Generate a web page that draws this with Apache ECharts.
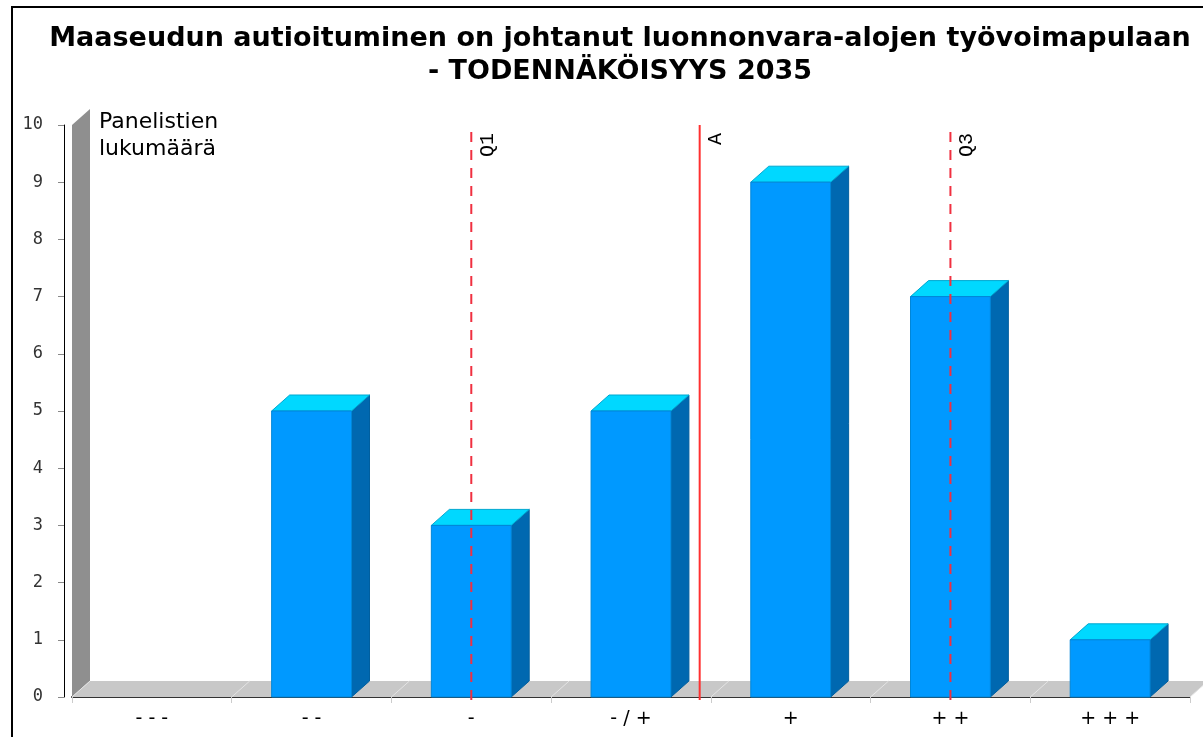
<!DOCTYPE html>
<html><head><meta charset="utf-8">
<script src="https://cdn.jsdelivr.net/npm/echarts@6/dist/echarts.min.js"></script>
<style>html,body{margin:0;padding:0;background:#fff}#c{width:1203px;height:737px}</style>
</head><body><div id="c"></div>
<script>
const titleLines = ['Maaseudun autioituminen on johtanut luonnonvara-alojen työvoimapulaan', '- TODENNÄKÖISYYS 2035'];
const yAxisTitle = ['Panelistien', 'lukumäärä'];
const categories = ['- - -', '- -', '-', '- / +', '+', '+ +', '+ + +'];
const counts = [0, 5, 3, 5, 9, 7, 1];
const yMin = 0, yMax = 10, yStep = 1;
const markerNames = ['Q1', 'A', 'Q3'];
const markerValues = [3, 4.43, 6];

const DX = 18, DY = 16;

function renderBar(params, api) {
  const idx = api.value(0), v = api.value(1);
  if (!v) return null;
  const top = api.coord([idx, v]);
  const base = api.coord([idx, 0]);
  const bw = api.size([1, 0])[0] * 0.5;
  const x0 = top[0] - bw / 2, x1 = top[0] + bw / 2, yt = top[1], yb = base[1];
  return { type: 'group', children: [
    { type: 'polygon', shape: { points: [[x1, yb], [x1, yt], [x1 + DX, yt - DY], [x1 + DX, yb - DY]] },
      style: { fill: '#0068b0', stroke: '#005f9f', lineWidth: 1 } },
    { type: 'polygon', shape: { points: [[x0, yt], [x1, yt], [x1 + DX, yt - DY], [x0 + DX, yt - DY]] },
      style: { fill: '#00d8ff', stroke: '#00a8d0', lineWidth: 1 } },
    { type: 'rect', shape: { x: x0, y: yt, width: bw, height: yb - yt },
      style: { fill: '#0099ff', stroke: '#0086d8', lineWidth: 1 } }
  ]};
}

function renderFrame(params, api) {
  const n = categories.length;
  const pL = api.coord([0.5, yMin]);
  const pR = api.coord([n + 0.5, yMin]);
  const pT = api.coord([0.5, yMax]);
  const children = [
    { type: 'polygon', shape: { points: [[pL[0], pT[1]], [pL[0] + DX, pT[1] - DY], [pL[0] + DX, pL[1] - DY], [pL[0], pL[1]]] },
      style: { fill: '#8f8f8f' } },
    { type: 'polygon', shape: { points: [[pL[0], pL[1]], [pL[0] + DX, pL[1] - DY], [pR[0] + DX, pR[1] - DY], [pR[0], pR[1]]] },
      style: { fill: '#c8c8c8' } }
  ];
  for (let i = 0; i <= n; i++) {
    const p = api.coord([i + 0.5, yMin]);
    children.push({ type: 'line', shape: { x1: p[0], y1: p[1], x2: p[0] + DX, y2: p[1] - DY },
      style: { stroke: '#e4e4e4', lineWidth: 1 } });
  }
  return { type: 'group', children };
}

function renderMarker(params, api) {
  const v = api.value(0);
  const name = markerNames[params.dataIndex];
  const b = api.coord([v, yMin]);
  const t = api.coord([v, yMax]);
  const dashed = name.charAt(0) === 'Q';
  return { type: 'group', children: [
    { type: 'line', shape: { x1: b[0], y1: b[1] + 3, x2: t[0], y2: t[1] },
      style: { stroke: dashed ? '#f03040' : '#ff3030', lineWidth: 2, lineDash: dashed ? [10, 8] : null } },
    { type: 'text', x: t[0] + 6, y: t[1] + 8, rotation: Math.PI / 2,
      style: { text: name, align: 'right', verticalAlign: 'top', fill: '#000',
        font: '20px "Liberation Mono", monospace' } }
  ]};
}

const chart = echarts.init(document.getElementById('c'), null, { renderer: 'canvas' });
chart.setOption({
  animation: false,
  backgroundColor: '#fff',
  title: {
    text: titleLines.join('\n'),
    left: 615, textAlign: 'center', top: 17,
    textStyle: { fontFamily: 'DejaVu Sans', fontWeight: 'bold', fontSize: 27, lineHeight: 33, color: '#000' }
  },
  grid: { left: 72, right: 13, top: 125, bottom: 40 },
  xAxis: [
    { type: 'category', data: categories, boundaryGap: true,
      axisLine: { show: true, lineStyle: { color: '#333', width: 2 } },
      axisTick: { show: true, length: 6, lineStyle: { color: '#cccccc' } },
      axisLabel: { fontFamily: 'DejaVu Sans', fontSize: 19, color: '#000', margin: 13 },
      splitLine: { show: false } },
    { type: 'value', min: 0.5, max: categories.length + 0.5, show: false }
  ],
  yAxis: {
    type: 'value', min: yMin, max: yMax, interval: yStep, offset: 8,
    axisLine: { show: true, lineStyle: { color: '#000', width: 1 } },
    axisTick: { show: true, length: 6, lineStyle: { color: '#888' } },
    axisLabel: { fontFamily: 'DejaVu Sans Mono', fontSize: 17, color: '#333', margin: 21 },
    splitLine: { show: false }
  },
  graphic: [
    { type: 'rect', shape: { x: 12, y: 7, width: 1250, height: 800 },
      style: { fill: 'none', stroke: '#000', lineWidth: 2 }, silent: true },
    { type: 'text', left: 99, top: 109,
      style: { text: yAxisTitle.join('\n'), font: '22px "DejaVu Sans"', lineHeight: 27, fill: '#000' } }
  ],
  series: [
    { type: 'custom', xAxisIndex: 1, renderItem: renderFrame, data: [[0.5, 0]], clip: false, z: 1, silent: true },
    { type: 'custom', xAxisIndex: 0, renderItem: renderBar, data: counts.map((v, i) => [i, v]),
      encode: { x: 0, y: 1 }, clip: false, z: 3 },
    { type: 'custom', xAxisIndex: 1, renderItem: renderMarker, data: markerValues.map((v, i) => [v, i]),
      encode: { x: 0 }, clip: false, z: 5 }
  ]
});
</script>
</body></html>
